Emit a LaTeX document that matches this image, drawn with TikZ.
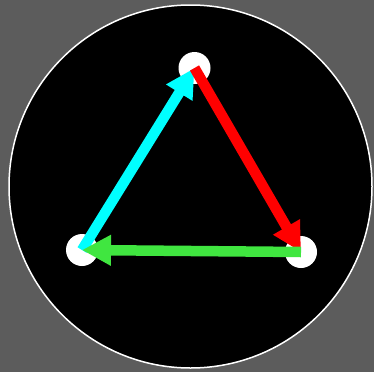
\documentclass[tikz,border=0pt]{standalone}
\usepackage{tikz}
\usetikzlibrary{arrows.meta}
\usepackage{xcolor}
\definecolor{bggray}{RGB}{92,92,92}
\definecolor{edgegreen}{RGB}{64,230,64}
\definecolor{edgecyan}{RGB}{0,255,255}
\definecolor{edgered}{RGB}{255,0,0}

\begin{document}
\begin{tikzpicture}[
    x=1pt, y=-1pt,
    disc/.style={circle, draw=white, line width=1.5pt, fill=black, minimum size=363pt, inner sep=0pt},
    dot/.style={circle, fill=white, minimum size=32pt, inner sep=0pt},
    arr/.style={line width=10.5pt, -{Triangle[length=29pt, width=29pt]}}
  ]
    \fill[bggray] (0,0) rectangle (374,372);
    \useasboundingbox (0,0) rectangle (374,372);
    \node[disc] (plate) at (190.5,186.5) {};
    \node[dot] (top) at (194.5,68) {};
    \node[dot] (left) at (82,250) {};
    \node[dot] (right) at (301,252) {};
    \draw[arr, edgecyan] (left.center) -- (top.center);
    \draw[arr, edgered] (top.center) -- (right.center);
    \draw[arr, edgegreen] (right.center) -- (left.center);
  \end{tikzpicture}
\end{document}
